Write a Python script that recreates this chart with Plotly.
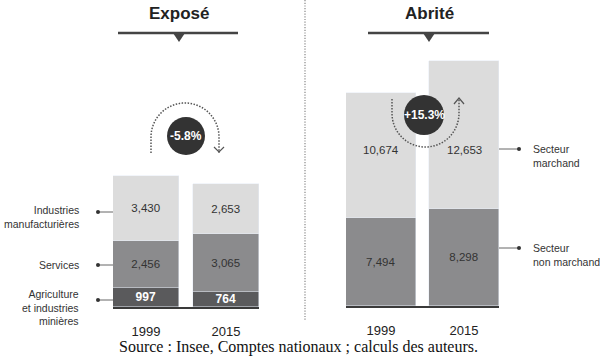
import math
import plotly.graph_objects as go

# ---------------- data ----------------
years = ["1999", "2015"]
agri = [997, 764]                 # Agriculture et industries minières
services = [2456, 3065]           # Services
industries = [3430, 2653]         # Industries manufacturières
non_marchand = [7494, 8298]       # Secteur non marchand
marchand = [10674, 12653]         # Secteur marchand
exposed_change = "-5.8%"
sheltered_change = "+15.3%"
exposed_labels = ["Industries<br>manufacturières", "Services",
                  "Agriculture<br>et industries<br>minières"]
sheltered_labels = ["Secteur<br>marchand", "Secteur<br>non marchand"]
titles = ["Exposé", "Abrité"]
source = "Source : Insee, Comptes nationaux ; calculs des auteurs."

# ---------------- geometry / style ----------------
W, H = 600, 363


def fx(p):
    return p / W


def fy(p):
    return 1 - p / H


LIGHT = "#dcdcdc"
MID = "#8b8b8d"
DARK = "#5a5a5c"
INK = "#333333"
AXIS = "#3a3a3a"
FONT = "Liberation Sans, Arial, sans-serif"

L_X0, L_X1, L_BASE = 113, 259, 307
R_X0, R_X1, R_BASE = 346, 499, 306
TOP = 40
L_SCALE = 0.019     # px per unit
R_SCALE = 0.0117
L_BW = 66 / 80
R_BW = 70 / 83


def fmt(v):
    return f"{v:,}"


fig = go.Figure()

common = dict(textposition="inside", insidetextanchor="middle",
              constraintext="none", hoverinfo="skip")

# left (exposed)
fig.add_bar(x=years, y=agri, marker_color=DARK, width=L_BW,
            text=[fmt(v) for v in agri],
            textfont=dict(color="white", size=12, family=FONT, weight="bold"),
            xaxis="x", yaxis="y", **common)
fig.add_bar(x=years, y=services, marker_color=MID, width=L_BW,
            text=[fmt(v) for v in services],
            textfont=dict(color=INK, size=11.5, family=FONT),
            xaxis="x", yaxis="y", **common)
fig.add_bar(x=years, y=industries, marker_color=LIGHT, width=L_BW,
            text=[fmt(v) for v in industries],
            textfont=dict(color=INK, size=11.5, family=FONT),
            xaxis="x", yaxis="y", **common)

# right (sheltered)
fig.add_bar(x=years, y=non_marchand, marker_color=MID, width=R_BW,
            text=[fmt(v) for v in non_marchand],
            textfont=dict(color=INK, size=11.5, family=FONT),
            xaxis="x2", yaxis="y2", **common)
fig.add_bar(x=years, y=marchand, marker_color=LIGHT, width=R_BW,
            textposition="none", hoverinfo="skip",
            xaxis="x2", yaxis="y2")

# baseline triangles
fig.add_scatter(x=years, y=[-3 / L_SCALE] * 2, mode="markers", cliponaxis=False,
                marker=dict(symbol="triangle-down", size=10, color=AXIS,
                            line=dict(width=0)),
                hoverinfo="skip", xaxis="x", yaxis="y")
fig.add_scatter(x=years, y=[-3 / R_SCALE] * 2, mode="markers", cliponaxis=False,
                marker=dict(symbol="triangle-down", size=10, color=AXIS,
                            line=dict(width=0)),
                hoverinfo="skip", xaxis="x2", yaxis="y2")

xcommon = dict(type="category", showline=True, linecolor=AXIS, linewidth=2,
               showgrid=False, zeroline=False, ticks="", ticklabelstandoff=11,
               tickfont=dict(size=13, color="#222", family=FONT), fixedrange=True)
ycommon = dict(visible=False, showgrid=False, zeroline=False, fixedrange=True)

annotations = []
shapes = []


def note(x, y, text, font, xanchor="center", align="center", **kw):
    d = dict(x=x, y=y, text=text, showarrow=False, font=font,
             xanchor=xanchor, yanchor="middle", align=align)
    d.update(kw)
    if "xref" not in d:
        d["xref"] = "paper"
        d["yref"] = "paper"
    annotations.append(d)


# value labels of the "marchand" segments (same row); category index on x2
m_label_y = (R_BASE - 150) / R_SCALE
for i, v in enumerate(marchand):
    note(i, m_label_y, fmt(v), dict(size=11.5, color=INK, family=FONT),
         xref="x2", yref="y2")

# titles
for t, cx, x0, x1 in [(titles[0], 179, 118, 238), (titles[1], 429, 368, 489)]:
    note(fx(cx), fy(13), t, dict(size=17, color="#222", family=FONT, weight="bold"))
    shapes.append(dict(type="line", xref="paper", yref="paper",
                       x0=fx(x0), x1=fx(x1), y0=fy(33), y1=fy(33),
                       line=dict(color="#444", width=2.5)))
    shapes.append(dict(type="path", xref="paper", yref="paper",
                       path=f"M{fx(cx-6)},{fy(33)} L{fx(cx+6)},{fy(33)} L{fx(cx)},{fy(42)} Z",
                       fillcolor="#444", line=dict(width=0)))

# divider
shapes.append(dict(type="line", xref="paper", yref="paper",
                   x0=fx(305), x1=fx(305), y0=fy(0), y1=fy(320),
                   line=dict(color="#888", width=1.2, dash="1.2px,1.5px")))

# left category labels + connectors
for lab, ty, dy in zip(exposed_labels, [217, 265, 307], [212, 265, 300]):
    note(fx(81), fy(ty), lab, dict(size=10.5, color=INK, family=FONT),
         xanchor="right", align="right")
    shapes.append(dict(type="line", xref="paper", yref="paper",
                       x0=fx(98), x1=fx(L_X0), y0=fy(dy), y1=fy(dy),
                       line=dict(color="#666", width=1)))
    shapes.append(dict(type="circle", xref="paper", yref="paper",
                       x0=fx(96), x1=fx(100), y0=fy(dy + 2), y1=fy(dy - 2),
                       fillcolor=INK, line=dict(width=0)))

# right category labels + connectors
for lab, ty, dy in zip(sheltered_labels, [156, 255], [149, 248]):
    note(fx(531), fy(ty), lab, dict(size=10.5, color=INK, family=FONT),
         xanchor="left", align="left")
    shapes.append(dict(type="line", xref="paper", yref="paper",
                       x0=fx(R_X1), x1=fx(519), y0=fy(dy), y1=fy(dy),
                       line=dict(color="#666", width=1)))
    shapes.append(dict(type="circle", xref="paper", yref="paper",
                       x0=fx(517), x1=fx(521), y0=fy(dy + 2), y1=fy(dy - 2),
                       fillcolor=INK, line=dict(width=0)))


def arc_path(cx, cy, r, y_end, up):
    # dotted arc: vertical leg, half circle, vertical leg
    pts = [(cx - r, y_end)]
    n = 40
    for i in range(n + 1):
        a = math.pi - math.pi * i / n
        if up:
            pts.append((cx + r * math.cos(a), cy - r * math.sin(a)))
        else:
            pts.append((cx + r * math.cos(a), cy + r * math.sin(a)))
    pts.append((cx + r, y_end))
    return "M" + " L".join(f"{fx(x):.5f},{fy(y):.5f}" for x, y in pts)


DOT = dict(color="#555", width=1.5, dash="1.5px,1.5px")
# left badge (decrease): arc over the top, arrow pointing down
shapes.append(dict(type="path", xref="paper", yref="paper",
                   path=arc_path(185, 137, 34, 153, True), line=DOT))
shapes.append(dict(type="path", xref="paper", yref="paper",
                   path=f"M{fx(214)},{fy(147)} L{fx(219)},{fy(152)} L{fx(224)},{fy(147)}",
                   line=dict(color="#555", width=1.2)))
# right badge (increase): arc under, arrow pointing up
shapes.append(dict(type="path", xref="paper", yref="paper",
                   path=arc_path(425.5, 113.5, 33.5, 99, False), line=DOT))
shapes.append(dict(type="path", xref="paper", yref="paper",
                   path=f"M{fx(454)},{fy(104)} L{fx(459)},{fy(98)} L{fx(464)},{fy(104)}",
                   line=dict(color="#555", width=1.2)))

for txt, cx, cy, r in [(exposed_change, 186, 136, 19), (sheltered_change, 424, 115, 20)]:
    shapes.append(dict(type="circle", xref="paper", yref="paper",
                       x0=fx(cx - r), x1=fx(cx + r), y0=fy(cy + r), y1=fy(cy - r),
                       fillcolor="#333", line=dict(width=0)))
    note(fx(cx), fy(cy), txt, dict(size=12, color="white", family=FONT, weight="bold"))

# source
note(fx(298), fy(347), source,
     dict(size=16, color="#111", family="Liberation Serif, Times New Roman, serif"))

fig.update_layout(
    width=W, height=H, margin=dict(l=0, r=0, t=0, b=0, pad=0),
    paper_bgcolor="white", plot_bgcolor="white",
    barmode="stack", bargap=0, showlegend=False,
    xaxis=dict(domain=[fx(L_X0), fx(L_X1)], range=[-L_BW / 2, 1 + L_BW / 2],
               anchor="y", **xcommon),
    yaxis=dict(domain=[fy(L_BASE), fy(TOP)], range=[0, (L_BASE - TOP) / L_SCALE],
               anchor="x", **ycommon),
    xaxis2=dict(domain=[fx(R_X0), fx(R_X1)], range=[-R_BW / 2, 1 + R_BW / 2],
                anchor="y2", **xcommon),
    yaxis2=dict(domain=[fy(R_BASE), fy(TOP)], range=[0, (R_BASE - TOP) / R_SCALE],
                anchor="x2", **ycommon),
    annotations=annotations, shapes=shapes,
)

fig.write_html("out.html", config={"displayModeBar": False},
               post_script="document.body.style.margin='0px';")
